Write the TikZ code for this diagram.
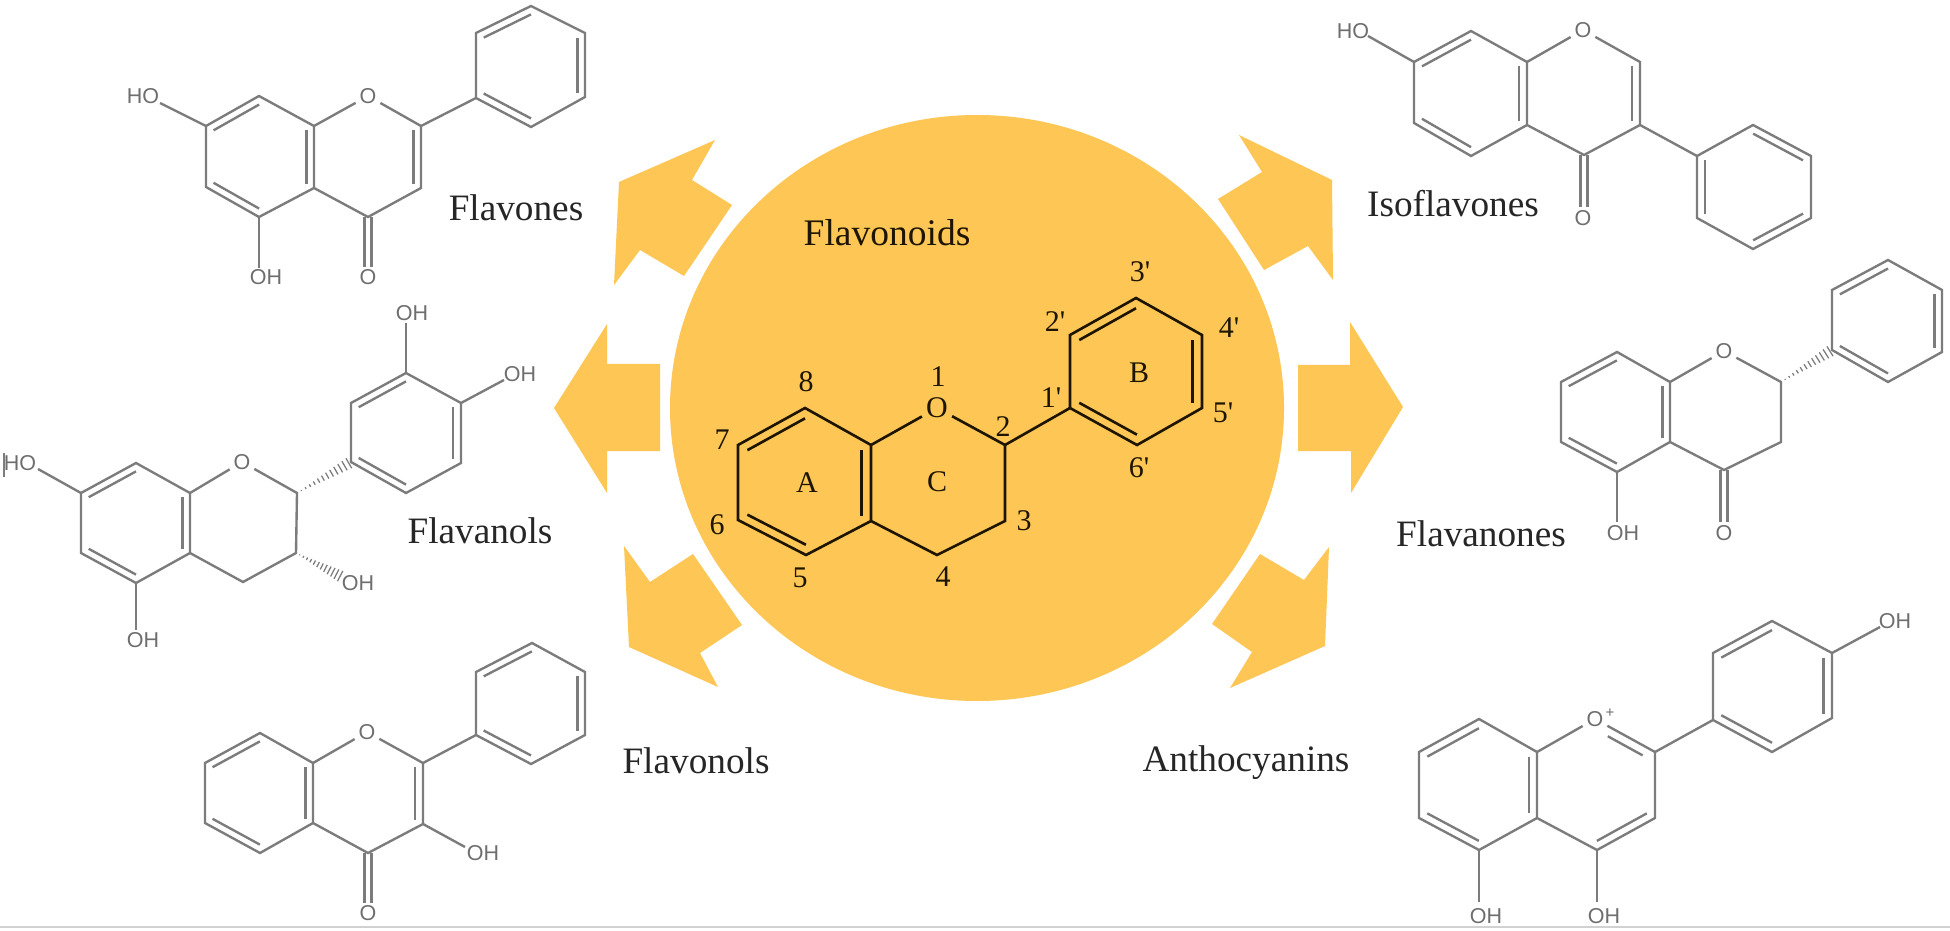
\documentclass[tikz,border=0pt]{standalone}
\usepackage{fontspec}
\setmainfont{Liberation Serif}
\newfontfamily\chemfont{Liberation Sans}
\usetikzlibrary{calc}
\definecolor{gold}{HTML}{FDC655}
\definecolor{bondgray}{HTML}{7C7C7C}
\definecolor{atomgray}{HTML}{6E6E6E}
\definecolor{inkdark}{HTML}{262626}
\definecolor{inkcore}{HTML}{1E1500}
\tikzset{
  x=0.4pt,y=-0.4pt,
  bond/.style={draw=bondgray,line width=0.95pt,line join=miter},
  corebond/.style={draw=inkcore,line width=1.05pt,line join=miter},
  hashl/.style={draw=bondgray,line width=0.5pt},
  atom/.style={font=\chemfont\fontsize{8.6}{9}\selectfont,text=atomgray,inner sep=0.6pt},
  ringO/.style={font=\chemfont\fontsize{8.6}{9}\selectfont,text=atomgray,inner sep=1.4pt},
  family/.style={font=\fontsize{14.9}{16}\selectfont,text=inkdark,inner sep=0pt},
  num/.style={font=\fontsize{12}{13}\selectfont,text=inkcore,inner sep=0pt},
  petal/.style={fill=gold,draw=none}
}
\newcommand\innerb[4][bond]{\draw[#1] ($#2!0.14!#4$) -- ($#3!0.14!#4$);}
\newcommand\hashb[2]{\foreach \t in {0.08,0.16,...,0.97}{\pgfmathsetmacro\hw{\t*2.4}\draw[hashl] ($#1!\t!#2!\hw pt!90:#2$) -- ($#1!\t!#2!\hw pt!-90:#2$);}}
\newcommand\carbonyl[3]{\draw[bond] (#1-3.5,#2) -- (#1-3.5,#3); \draw[bond] (#1+3.5,#2) -- (#1+3.5,#3);}
\newcommand\pr{\textquotesingle}
\begin{document}
\begin{tikzpicture}
\useasboundingbox (0,0) rectangle (1950,931);
\fill[white] (0,0) rectangle (1950,931);
\draw[draw=black!18,line width=0.7pt] (0,927) -- (1950,927);

% central disc and arrows
\fill[gold] (977,408) ellipse [x radius=307,y radius=293];
\fill[petal] (715,140) -- (619,182) -- (614,285) -- (640,250) -- (684,276) -- (732,205) -- (692,180) -- cycle;
\fill[petal] (554,408) -- (607,324) -- (607,364) -- (660,364) -- (660,451) -- (607,451) -- (607,493) -- cycle;
\fill[petal] (624,546) -- (650,582) -- (693,554) -- (742,625) -- (700,653) -- (718,687) -- (629,647) -- cycle;
\fill[petal] (1239,135) -- (1262,172) -- (1218,199) -- (1264,270) -- (1308,246) -- (1333,280) -- (1332,180) -- cycle;
\fill[petal] (1298,365) -- (1350,365) -- (1350,322) -- (1403,407) -- (1351,493) -- (1351,451) -- (1298,451) -- cycle;
\fill[petal] (1260,554) -- (1304,580) -- (1329,547) -- (1325,646) -- (1230,688) -- (1252,652) -- (1212,624) -- cycle;

% central molecule
\node[font=\fontsize{15}{16}\selectfont,text=inkcore,inner sep=0pt] (title) at (887,233) {Flavonoids};
\node[num,inner sep=1.5pt] (coreO) at (937,408) {O};
\draw[corebond] (871,445) -- (805,408) -- (738,445) -- (738,520) -- (806,555) -- (871,521) -- (871,445) -- (coreO) -- (1005,445) -- (1005,521) -- (937,555) -- (871,521);
\draw[corebond] (1005,445) -- (1070,408);
\draw[corebond] (1070,408) -- (1070,335) -- (1136,298) -- (1202,335) -- (1202,408) -- (1137,445) -- cycle;
\innerb[corebond]{(738,445)}{(805,408)}{(805,482)}
\innerb[corebond]{(738,520)}{(806,555)}{(805,482)}
\innerb[corebond]{(871,445)}{(871,521)}{(805,482)}
\innerb[corebond]{(1070,335)}{(1136,298)}{(1136,371)}
\innerb[corebond]{(1202,335)}{(1202,408)}{(1136,371)}
\innerb[corebond]{(1070,408)}{(1137,445)}{(1136,371)}
\node[num] (n8) at (806,382) {8};
\node[num] (n1) at (938,377) {1};
\node[num] (n7) at (722,440) {7};
\node[num] (n6) at (717,525) {6};
\node[num] (n5) at (800,578) {5};
\node[num] (n4) at (943,577) {4};
\node[num] (n3) at (1024,521) {3};
\node[num] (n2) at (1003,427) {2};
\node[num] (n1p) at (1051,398) {1\pr};
\node[num] (n2p) at (1055,322) {2\pr};
\node[num] (n3p) at (1140,272) {3\pr};
\node[num] (n4p) at (1229,328) {4\pr};
\node[num] (n5p) at (1223,413) {5\pr};
\node[num] (n6p) at (1139,468) {6\pr};
\node[num] (ra) at (807,483) {A};
\node[num] (rc) at (937,482) {C};
\node[num] (rb) at (1139,373) {B};

% Flavones
\node[family] (lfones) at (516,208) {Flavones};
\node[ringO] (fO) at (368,96) {O};
\draw[bond] (314,126) -- (259,96) -- (206,126) -- (206,187) -- (259,217) -- (314,188) -- (314,126) -- (fO) -- (421,126) -- (421,188) -- (368,217) -- (314,188);
\draw[bond] (421,126) -- (476,98);
\draw[bond] (476,98) -- (476,33) -- (531,6) -- (585,33) -- (585,97) -- (531,127) -- cycle;
\innerb{(206,126)}{(259,96)}{(260,157)}
\innerb{(206,187)}{(259,217)}{(260,157)}
\innerb{(314,126)}{(314,188)}{(260,157)}
\innerb{(421,126)}{(421,188)}{(368,157)}
\innerb{(476,33)}{(531,6)}{(531,66)}
\innerb{(585,33)}{(585,97)}{(531,66)}
\innerb{(476,98)}{(531,127)}{(531,66)}
\draw[bond] (206,126) -- (160,103);
\draw[bond] (259,217) -- (259,268);
\carbonyl{368}{217}{267}
\node[atom] (fHO) at (143,96) {HO};
\node[atom] (fOH) at (266,277) {OH};
\node[atom] (fCO) at (368,277) {O};

% Flavanols
\node[family] (lfanols) at (480,531) {Flavanols};
\node[ringO] (gO) at (242,462) {O};
\draw[bond] (190,493) -- (136,463) -- (81,493) -- (81,553) -- (136,583) -- (190,553) -- (190,493) -- (gO) -- (297,493) -- (296,553) -- (243,582) -- (190,553);
\draw[bond] (351,462) -- (351,403) -- (406,373) -- (461,403) -- (461,463) -- (406,493) -- cycle;
\innerb{(81,493)}{(136,463)}{(136,523)}
\innerb{(81,553)}{(136,583)}{(136,523)}
\innerb{(190,493)}{(190,553)}{(136,523)}
\innerb{(351,403)}{(406,373)}{(406,433)}
\innerb{(461,403)}{(461,463)}{(406,433)}
\innerb{(351,462)}{(406,493)}{(406,433)}
\hashb{(297,493)}{(351,462)}
\hashb{(296,553)}{(342,577)}
\draw[bond] (81,493) -- (38,469);
\draw[bond] (136,583) -- (136,630);
\draw[bond] (406,373) -- (406,323);
\draw[bond] (461,403) -- (504,380);
\node[atom] (gHO) at (20,463) {HO};
\node[atom] (gOHa) at (412,313) {OH};
\node[atom] (gOHb) at (520,374) {OH};
\node[atom] (gOHc) at (358,583) {OH};
\node[atom] (gOHd) at (143,640) {OH};
\draw[draw=bondgray,line width=0.5pt] (4,453) -- (4,477);

% Flavonols
\node[family] (lfonols) at (696,761) {Flavonols};
\node[ringO] (hO) at (367,732) {O};
\draw[bond] (313,763) -- (260,733) -- (205,763) -- (205,823) -- (260,853) -- (313,823) -- (313,763) -- (hO) -- (423,763) -- (423,824) -- (368,853) -- (313,823);
\draw[bond] (423,763) -- (476,735);
\draw[bond] (476,735) -- (476,672) -- (532,643) -- (585,672) -- (585,735) -- (531,764) -- cycle;
\innerb{(205,763)}{(260,733)}{(259,793)}
\innerb{(205,823)}{(260,853)}{(259,793)}
\innerb{(313,763)}{(313,823)}{(259,793)}
\innerb{(423,763)}{(423,824)}{(368,793)}
\innerb{(476,672)}{(532,643)}{(531,703)}
\innerb{(585,672)}{(585,735)}{(531,703)}
\innerb{(476,735)}{(531,764)}{(531,703)}
\draw[bond] (423,824) -- (465,847);
\carbonyl{368}{853}{903}
\node[atom] (hOH) at (483,853) {OH};
\node[atom] (hCO) at (368,913) {O};

% Isoflavones
\node[family] (lifl) at (1453,204) {Isoflavones};
\node[ringO] (iO) at (1583,30) {O};
\draw[bond] (1527,62) -- (1471,31) -- (1414,62) -- (1414,123) -- (1471,156) -- (1527,125) -- (1527,62) -- (iO) -- (1640,62) -- (1640,125) -- (1584,155) -- (1527,125);
\draw[bond] (1640,125) -- (1697,156) -- (1753,125) -- (1811,156) -- (1811,218) -- (1753,249) -- (1697,218) -- (1697,156);
\innerb{(1414,62)}{(1471,31)}{(1471,93)}
\innerb{(1414,123)}{(1471,156)}{(1471,93)}
\innerb{(1527,62)}{(1527,125)}{(1471,93)}
\innerb{(1640,62)}{(1640,125)}{(1584,93)}
\innerb{(1697,156)}{(1697,218)}{(1754,187)}
\innerb{(1753,125)}{(1811,156)}{(1754,187)}
\innerb{(1811,218)}{(1753,249)}{(1754,187)}
\draw[bond] (1414,62) -- (1368,36);
\carbonyl{1584}{155}{207}
\node[atom] (iHO) at (1353,31) {HO};
\node[atom] (iCO) at (1583,218) {O};

% Flavanones
\node[family] (lfanon) at (1481,534) {Flavanones};
\node[ringO] (jO) at (1724,351) {O};
\draw[bond] (1670,382) -- (1617,352) -- (1561,382) -- (1561,442) -- (1617,472) -- (1670,442) -- (1670,382) -- (jO) -- (1781,382) -- (1781,442) -- (1724,470) -- (1670,442);
\draw[bond] (1832,350) -- (1832,290) -- (1888,260) -- (1942,290) -- (1942,352) -- (1888,382) -- cycle;
\innerb{(1561,382)}{(1617,352)}{(1616,412)}
\innerb{(1561,442)}{(1617,472)}{(1616,412)}
\innerb{(1670,382)}{(1670,442)}{(1616,412)}
\innerb{(1832,350)}{(1888,382)}{(1888,321)}
\innerb{(1832,290)}{(1888,260)}{(1888,321)}
\innerb{(1942,290)}{(1942,352)}{(1888,321)}
\hashb{(1781,382)}{(1832,350)}
\draw[bond] (1617,472) -- (1617,522);
\carbonyl{1724}{470}{522}
\node[atom] (jOH) at (1623,533) {OH};
\node[atom] (jCO) at (1724,533) {O};

% Anthocyanins
\node[family] (lanth) at (1246,763) {Anthocyanins};
\node[ringO] (kO) at (1595,719) {O};
\node[atom,font=\chemfont\fontsize{6}{6}\selectfont] (kplus) at (1610,713) {+};
\draw[bond] (1537,752) -- (1479,719) -- (1419,752) -- (1419,818) -- (1479,850) -- (1537,818) -- (1537,752) -- (kO) -- (1655,752) -- (1655,818) -- (1597,850) -- (1537,818);
\draw[bond] (1655,752) -- (1713,720) -- (1713,653) -- (1772,621) -- (1832,653) -- (1832,718) -- (1772,752) -- (1713,720);
\innerb{(1419,752)}{(1479,719)}{(1478,785)}
\innerb{(1419,818)}{(1479,850)}{(1478,785)}
\innerb{(1537,752)}{(1537,818)}{(1478,785)}
\innerb{(1655,818)}{(1597,850)}{(1596,785)}
\draw[bond] ($(kO)!0.28!(1655,752)+(-4,8)$) -- ($(kO)!0.86!(1655,752)+(-4,8)$);
\innerb{(1713,653)}{(1772,621)}{(1772,686)}
\innerb{(1832,653)}{(1832,718)}{(1772,686)}
\innerb{(1713,720)}{(1772,752)}{(1772,686)}
\draw[bond] (1479,850) -- (1479,902);
\draw[bond] (1597,850) -- (1597,902);
\draw[bond] (1832,653) -- (1880,627);
\node[atom] (kOHa) at (1486,916) {OH};
\node[atom] (kOHb) at (1604,916) {OH};
\node[atom] (kOHc) at (1895,621) {OH};
\end{tikzpicture}
\end{document}
